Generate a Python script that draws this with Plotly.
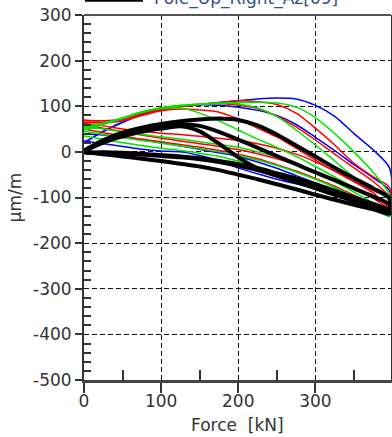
import plotly.graph_objects as go

# Force grid (kN) shared by every branch; the loops turn around at the last value
force = [0, 25, 50, 75, 100, 125, 150, 175, 200, 225, 250, 275, 300, 325, 350, 375, 396]

# Strain (µm/m): loading branch and unloading branch of each cycle, both given in rising force order
blue_up_1 = [20, 45, 65, 82, 95, 100, 104, 108, 112, 116, 118, 116, 102, 78, 40, 4, -35]
blue_dn_1 = [24, 18, 12, 6, 2, 0, -8, -20, -35, -48, -60, -70, -80, -92, -105, -118, -130]
blue_up_2 = [20, 45, 65, 82, 94, 100, 103, 102, 98, 91, 80, 60, 32, 3, -28, -57, -85]
blue_dn_2 = [40, 37, 32, 26, 20, 13, 6, -2, -10, -22, -36, -52, -68, -85, -100, -115, -128]

red_up_1 = [70, 68, 72, 84, 94, 100, 104, 108, 112, 110, 104, 85, 52, 15, -25, -55, -78]
red_dn_1 = [62, 57, 50, 45, 41, 38, 34, 30, 25, 18, 8, -5, -22, -42, -65, -90, -120]
red_up_2 = [65, 64, 68, 80, 92, 99, 104, 106, 102, 95, 78, 55, 26, -5, -35, -65, -100]
red_dn_2 = [50, 42, 35, 28, 22, 16, 10, 3, -5, -15, -28, -42, -58, -75, -95, -115, -132]
red_up_3 = [68, 68, 70, 80, 90, 94, 92, 87, 72, 52, 33, 8, -18, -42, -65, -85, -103]
red_dn_3 = [60, 52, 44, 37, 30, 24, 18, 12, 5, -4, -15, -28, -44, -62, -82, -102, -122]

green_up_1 = [55, 63, 75, 88, 97, 102, 105, 107, 105, 96, 78, 48, 15, -20, -55, -82, -107]
green_dn_1 = [55, 50, 44, 38, 33, 28, 22, 16, 10, 0, -12, -28, -45, -65, -88, -112, -138]
green_up_2 = [48, 60, 73, 86, 96, 101, 104, 106, 108, 109, 107, 98, 75, 40, 0, -45, -95]
green_dn_2 = [35, 28, 20, 14, 8, 3, -3, -10, -20, -32, -45, -60, -75, -92, -110, -125, -140]
green_up_3 = [52, 62, 74, 87, 95, 96, 85, 68, 48, 28, 10, -10, -32, -55, -78, -98, -115]
green_dn_3 = [45, 38, 31, 25, 19, 13, 7, 0, -8, -18, -30, -44, -60, -78, -98, -118, -142]

black_up_1 = [3, 26, 42, 53, 61, 67, 71, 73, 70, 58, 38, 14, -10, -35, -58, -80, -102]
black_dn_1 = [0, -5, -10, -15, -20, -26, -32, -40, -50, -60, -71, -82, -94, -105, -116, -126, -135]
black_up_2 = [0, 22, 38, 48, 55, 60, 57, 44, 27, 9, -9, -27, -45, -62, -80, -98, -115]
black_dn_2 = [0, -2, -4, -6, -9, -12, -16, -22, -30, -40, -52, -64, -77, -90, -103, -115, -126]
black_up_3 = [0, 20, 34, 44, 51, 56, 45, 18, -12, -36, -52, -66, -80, -94, -108, -121, -133]
black_dn_3 = [0, -1, -2, -4, -7, -10, -14, -20, -27, -36, -47, -58, -71, -85, -100, -114, -128]

legend_name = "Pole_Up_Right_Az[09]"

x_tick_vals = [0, 100, 200, 300]
x_tick_text = ["0", "100", "200", "300"]
y_tick_vals = [-500, -400, -300, -200, -100, 0, 100, 200, 300]
y_tick_text = ["-500", "-400", "-300", "-200", "-100", "0", "100", "200", "300"]

FONT = "DejaVu Sans, Verdana, sans-serif"
TXT = "#333333"

groups = [
    ("#0000ff", 1.5, [(blue_up_1, blue_dn_1), (blue_up_2, blue_dn_2)]),
    ("#ff0000", 1.5, [(red_up_1, red_dn_1), (red_up_2, red_dn_2), (red_up_3, red_dn_3)]),
    ("#00e400", 1.5, [(green_up_1, green_dn_1), (green_up_2, green_dn_2), (green_up_3, green_dn_3)]),
    ("#000000", 4.0, [(black_up_1, black_dn_1), (black_up_2, black_dn_2), (black_up_3, black_dn_3)]),
]

fig = go.Figure()
for color, width, loops in groups:
    for up, dn in loops:
        # loading path out to max force, then unloading path back to zero
        fig.add_trace(go.Scatter(
            x=force + force[::-1],
            y=up + dn[::-1],
            mode="lines",
            line=dict(color=color, width=width, shape="spline", smoothing=0.8),
            showlegend=False,
            hoverinfo="skip",
        ))

fig.update_layout(
    width=392,
    height=437,
    margin=dict(l=84, r=1, t=15, b=57, autoexpand=False),
    paper_bgcolor="white",
    plot_bgcolor="white",
    font=dict(family=FONT, size=17, color=TXT),
    showlegend=False,
)

fig.update_xaxes(
    range=[0, 398],
    tickmode="array", tickvals=x_tick_vals, ticktext=x_tick_text,
    ticks="outside", ticklen=10, tickwidth=1.5, tickcolor="#333333",
    ticklabelstandoff=-6,
    minor=dict(ticks="inside", tickmode="array", tickvals=[50, 150, 250, 350],
               ticklen=10, tickwidth=1.5, tickcolor="#333333", showgrid=False),
    showgrid=True, gridcolor="#111111", gridwidth=1, griddash="5px,3px",
    zeroline=False,
    showline=True, linecolor="#444444", linewidth=3,
    tickfont=dict(family=FONT, size=17, color=TXT),
)
fig.update_yaxes(
    range=[-500, 300],
    tickmode="array", tickvals=y_tick_vals, ticktext=y_tick_text,
    ticks="outside", ticklen=7, tickwidth=1.5, tickcolor="#333333",
    minor=dict(ticks="inside", tickmode="array",
               tickvals=[v for v in range(-480, 300, 20) if v % 100 != 0],
               ticklen=7, tickwidth=1.5, tickcolor="#333333", showgrid=False),
    showgrid=True, gridcolor="#111111", gridwidth=1, griddash="5px,3px",
    zeroline=False,
    showline=True, linecolor="#333333", linewidth=2, mirror=True,
    tickfont=dict(family=FONT, size=17, color=TXT),
)

# top frame edge
fig.add_shape(type="line", xref="paper", yref="paper", x0=0, x1=1, y0=1, y1=1,
              line=dict(color="#555555", width=2), layer="above")

# axis titles
fig.add_annotation(text="Force&nbsp;&nbsp;[kN]", xref="paper", yref="paper",
                   x=0.5, y=-0.124, xanchor="center", yanchor="middle",
                   showarrow=False, font=dict(family=FONT, size=17, color=TXT))
fig.add_annotation(text="µm/m", xref="paper", yref="paper",
                   x=-0.225, y=0.5, xanchor="center", yanchor="middle", textangle=-90,
                   showarrow=False, font=dict(family=FONT, size=17, color=TXT))

# series key, sitting above the frame
fig.add_shape(type="line", xref="paper", yref="paper", x0=0.003, x1=0.192,
              y0=1.043, y1=1.043, line=dict(color="black", width=5), layer="above")
fig.add_annotation(text=legend_name, xref="paper", yref="paper",
                   x=0.2215, y=1.045, xanchor="left", yanchor="middle",
                   showarrow=False, font=dict(family=FONT, size=17, color="#34508c"))

fig.write_html("out.html")
